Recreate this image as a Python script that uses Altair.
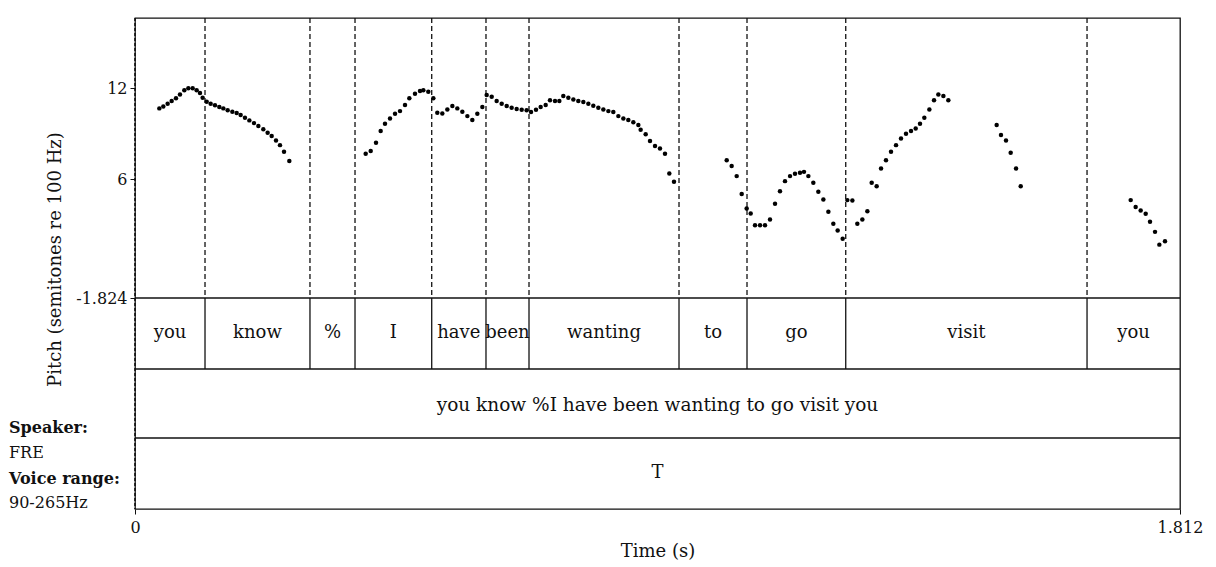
import altair as alt
import pandas as pd

# ---------------- data ----------------
T_END = 1.812
PITCH_FLOOR = -1.824
PITCH_TOP = 16.61
Y_BOTTOM = -15.715          # bottom of the tier strip, expressed on the pitch scale

y_ticks = [-1.824, 6, 12]
x_ticks = [0, 1.812]

# word tier boundaries (s) and labels
boundaries = [0.0, 0.1214, 0.3034, 0.3815, 0.5145, 0.6086, 0.6832,
              0.9433, 1.0612, 1.2324, 1.6508, 1.812]
words = ["you", "know", "%", "I", "have", "been", "wanting",
         "to", "go", "visit", "you"]
sentence = "you know %I have been wanting to go visit you"
tone_label = "T"
speaker_lines = ["Speaker:", "FRE", "Voice range:", "90-265Hz"]
speaker_bold = [True, False, True, False]

# pitch contour segments (time in s, pitch in semitones re 100 Hz)
seg1_t = [0.0422, 0.0491, 0.0566, 0.0636, 0.0711, 0.0780, 0.0855, 0.0925,
          0.1000, 0.1069, 0.1127, 0.1173, 0.1243, 0.1312, 0.1387, 0.1462,
          0.1532, 0.1607, 0.1688, 0.1763, 0.1832, 0.1907, 0.1983, 0.2063,
          0.2139, 0.2225, 0.2300, 0.2370, 0.2445, 0.2514, 0.2584, 0.2676]
seg1_st = [10.66, 10.79, 10.97, 11.14, 11.32, 11.58, 11.85, 11.98,
           11.98, 11.85, 11.67, 11.36, 11.10, 10.97, 10.86, 10.75,
           10.66, 10.53, 10.44, 10.35, 10.22, 10.04, 9.87, 9.69,
           9.50, 9.28, 9.06, 8.84, 8.55, 8.24, 7.80, 7.19]

seg2_t = [0.4000, 0.4087, 0.4179, 0.4260, 0.4335, 0.4422, 0.4509, 0.4595,
          0.4682, 0.4757, 0.4855, 0.4942, 0.5000, 0.5086, 0.5173, 0.5242,
          0.5329, 0.5416, 0.5503, 0.5589, 0.5676, 0.5763, 0.5849, 0.5936,
          0.6023, 0.6098, 0.6185, 0.6271, 0.6358, 0.6445, 0.6531, 0.6618,
          0.6705, 0.6791, 0.6867, 0.6953, 0.7034, 0.7121, 0.7196, 0.7283,
          0.7358, 0.7427, 0.7514, 0.7601, 0.7687, 0.7774, 0.7861, 0.7947,
          0.8034, 0.8121, 0.8208, 0.8294, 0.8381, 0.8468, 0.8554, 0.8641,
          0.8728, 0.8768, 0.8855, 0.8930, 0.9017, 0.9103, 0.9190, 0.9265,
          0.9346]
seg2_st = [7.67, 7.85, 8.40, 9.17, 9.65, 10.00, 10.31, 10.48,
           10.88, 11.32, 11.63, 11.80, 11.85, 11.76, 11.32, 10.37,
           10.33, 10.59, 10.81, 10.66, 10.44, 10.15, 9.89, 10.31,
           10.75, 11.54, 11.43, 11.14, 10.97, 10.81, 10.70, 10.62,
           10.57, 10.53, 10.42, 10.57, 10.75, 10.88, 11.19, 11.14,
           11.14, 11.47, 11.36, 11.25, 11.14, 11.08, 10.97, 10.84,
           10.70, 10.59, 10.48, 10.42, 10.15, 10.00, 9.89, 9.74,
           9.56, 9.25, 8.95, 8.51, 8.18, 8.02, 7.67, 6.37,
           5.83]

seg3_t = [1.0260, 1.0346, 1.0433, 1.0520, 1.0606, 1.0676, 1.0751, 1.0838,
          1.0924, 1.1011, 1.1098, 1.1184, 1.1271, 1.1358, 1.1444, 1.1531,
          1.1600, 1.1676, 1.1762, 1.1849, 1.1936, 1.2023, 1.2109, 1.2184,
          1.2271]
seg3_st = [7.25, 6.86, 6.20, 5.03, 4.07, 3.74, 2.97, 2.97,
           2.97, 3.34, 4.38, 5.21, 5.87, 6.20, 6.35, 6.42,
           6.48, 6.20, 5.76, 5.17, 4.66, 3.85, 3.06, 2.62,
           2.07]

seg4_t = [1.2352, 1.2439, 1.2525, 1.2612, 1.2699, 1.2774, 1.2860, 1.2936,
          1.3022, 1.3109, 1.3196, 1.3282, 1.3369, 1.3456, 1.3537, 1.3612,
          1.3687, 1.3774, 1.3855, 1.3930, 1.4017, 1.4103]
seg4_st = [4.62, 4.60, 3.06, 3.34, 3.89, 5.76, 5.54, 6.70,
           7.25, 7.80, 8.24, 8.68, 8.99, 9.17, 9.34, 9.65,
           10.04, 10.59, 11.19, 11.58, 11.47, 11.19]

seg5_t = [1.4941, 1.5016, 1.5103, 1.5184, 1.5277, 1.5358]
seg5_st = [9.56, 8.90, 8.55, 7.74, 6.70, 5.54]

seg6_t = [1.7265, 1.7351, 1.7438, 1.7525, 1.7600, 1.7687, 1.7762, 1.7860]
seg6_st = [4.62, 4.16, 3.94, 3.72, 3.19, 2.53, 1.69, 1.91]

# ---------------- tables ----------------
segs = [(seg1_t, seg1_st), (seg2_t, seg2_st), (seg3_t, seg3_st),
        (seg4_t, seg4_st), (seg5_t, seg5_st), (seg6_t, seg6_st)]
rows = []
for ts, ss in segs:
    assert len(ts) == len(ss)
    rows += [{"t": a, "st": b} for a, b in zip(ts, ss)]
pitch = pd.DataFrame(rows)

inner = pd.DataFrame({"t": boundaries[1:-1]})
word_df = pd.DataFrame({
    "t": [(a + b) / 2 for a, b in zip(boundaries[:-1], boundaries[1:])],
    "label": words,
})

# ---------------- layout (pixels) ----------------
W, H = 1045, 491
PITCH_H = 280
WORD_BOTTOM = 351
SENT_BOTTOM = 420
FONT = "DejaVu Serif"
INK = "#111111"

xscale = alt.Scale(domain=[0, T_END], nice=False, zero=False)
yscale = alt.Scale(domain=[Y_BOTTOM, PITCH_TOP], nice=False, zero=False)

points = alt.Chart(pitch).mark_point(
    filled=True, shape="circle", size=20, color="black", opacity=1
).encode(
    x=alt.X("t:Q", scale=xscale, axis=alt.Axis(
        values=x_ticks, title="Time (s)",
        labelExpr="format(datum.value, '.4~g')", labelFlush=False,
        labelOverlap=False, tickSize=5, labelPadding=5, titlePadding=7,
        domain=False, grid=False, labelFontSize=16, titleFontSize=18,
        titleFontWeight="normal", tickColor=INK, labelColor=INK,
        titleColor=INK, labelFont=FONT, titleFont=FONT)),
    y=alt.Y("st:Q", scale=yscale, axis=alt.Axis(
        values=y_ticks, title="Pitch (semitones re 100 Hz)",
        labelExpr="datum.value < 0 ? '-' + format(-datum.value, '~g') : format(datum.value, '~g')",
        titleX=-80, titleY=241, titleAngle=270, titleAlign="center",
        titleBaseline="middle", titleFontWeight="normal", titleFontSize=18,
        labelFontSize=16, tickSize=5, labelPadding=3, domain=False,
        grid=False, labelFlush=False, labelOverlap=False, tickColor=INK,
        labelColor=INK, titleColor=INK, labelFont=FONT, titleFont=FONT)),
)

dashed = alt.Chart(inner).mark_rule(
    color=INK, strokeWidth=1.3, strokeDash=[5, 3]
).encode(x="t:Q", y=alt.value(0), y2=alt.value(PITCH_H))

word_lines = alt.Chart(inner).mark_rule(color=INK, strokeWidth=1.3).encode(
    x="t:Q", y=alt.value(PITCH_H), y2=alt.value(WORD_BOTTOM))

left_dash = alt.Chart(pd.DataFrame({"t": [0.0]})).mark_rule(
    color=INK, strokeWidth=1.6, strokeDash=[3, 2]
).encode(x="t:Q", y=alt.value(0), y2=alt.value(H))

h_lines = [
    alt.Chart(pd.DataFrame({"t": [0.0]})).mark_rule(color=INK, strokeWidth=1.3).encode(
        x=alt.value(0), x2=alt.value(W), y=alt.value(py))
    for py in (PITCH_H, WORD_BOTTOM, SENT_BOTTOM)
]

word_text = alt.Chart(word_df).mark_text(
    font=FONT, fontSize=18, color=INK, baseline="middle"
).encode(x="t:Q", y=alt.value(315), text="label:N")

sent_text = alt.Chart(pd.DataFrame({"t": [T_END / 2], "label": [sentence]})).mark_text(
    font=FONT, fontSize=18.5, color=INK, baseline="middle"
).encode(x="t:Q", y=alt.value(387), text="label:N")

tone_text = alt.Chart(pd.DataFrame({"t": [T_END / 2], "label": [tone_label]})).mark_text(
    font=FONT, fontSize=18, color=INK, baseline="middle"
).encode(x="t:Q", y=alt.value(455), text="label:N")

speaker_y = [410, 435, 461, 485]
speaker_layers = [
    alt.Chart(pd.DataFrame({"label": [txt]})).mark_text(
        font=FONT, fontSize=16, color=INK, align="left", baseline="middle",
        fontWeight="bold" if b else "normal"
    ).encode(x=alt.value(-126), y=alt.value(py), text="label:N")
    for txt, b, py in zip(speaker_lines, speaker_bold, speaker_y)
]

chart = alt.layer(
    dashed, word_lines, *h_lines, left_dash, points,
    word_text, sent_text, tone_text, *speaker_layers
).properties(
    width=W, height=H,
    padding={"left": 1, "top": 9, "right": 5, "bottom": 0},
    background="white",
).configure_view(stroke=INK, strokeWidth=1.3)

chart.save("out.html", embed_options={"renderer": "svg", "actions": False})
